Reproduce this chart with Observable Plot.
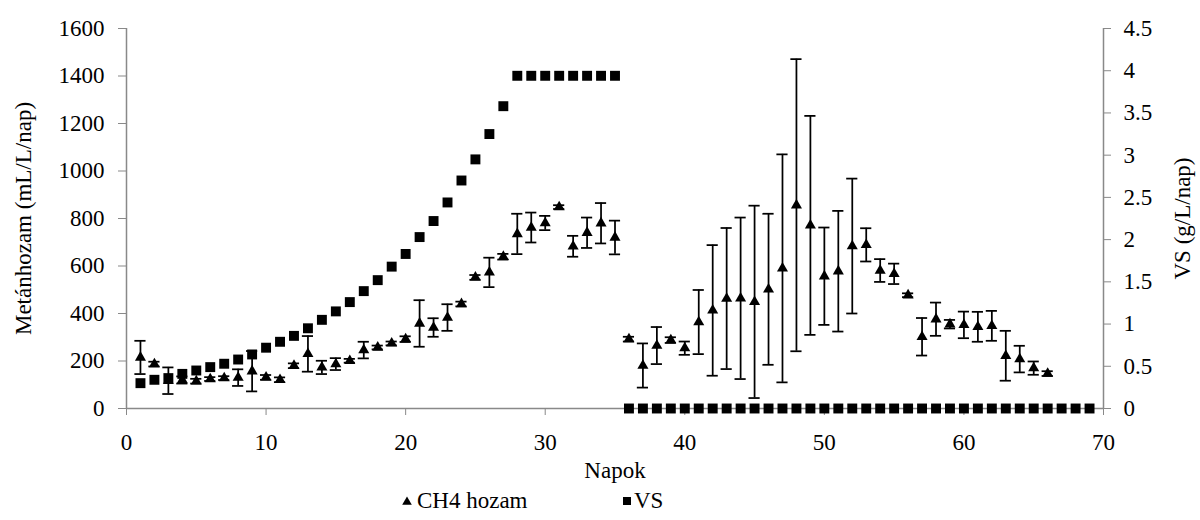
<!DOCTYPE html>
<html>
<head>
<meta charset="utf-8">
<script src="https://cdn.jsdelivr.net/npm/d3@7"></script>
<script src="https://cdn.jsdelivr.net/npm/@observablehq/plot@0.6"></script>
<style>
  body { margin: 0; background: #fff; font-family: "Times New Roman", "Liberation Serif", "DejaVu Serif", serif; }
  #chart svg { display: block; }
  #chart svg text, #legend text { font-family: "Times New Roman", "Liberation Serif", "DejaVu Serif", serif !important; }
  #legend { display: block; }
</style>
</head>
<body>
<div id="chart"></div>
<svg id="legend" width="1200" height="40"></svg>
<script>
// ---- Data ----
const ch4Days = [1,2,3,4,5,6,7,8,9,10,11,12,13,14,15,16,17,18,19,20,21,22,23,24,25,26,27,28,29,30,31,32,33,34,35,36,37,38,39,40,41,42,43,44,45,46,47,48,49,50,51,52,53,54,55,56,57,58,59,60,61,62,63,64,65,66];
const ch4Mean = [215,187,117,120,115,124,128,130,157,131,121,180,230,173,187,201,246,257,274,292,358,341,383,440,552,573,639,735,762,781,848,683,740,780,720,292,181,265,288,254,364,413,463,464,449,502,590,856,771,557,578,684,689,581,567,477,302,376,355,352,344,348,222,208,170,147];
const ch4Err  = [70,10,56,15,10,8,8,35,85,10,10,10,75,28,25,8,35,8,8,12,98,39,56,10,10,62,12,85,63,30,8,44,64,85,71,10,93,78,12,28,135,275,297,340,405,318,480,615,461,205,254,284,70,48,43,8,79,70,18,56,63,63,105,56,28,10];

const vsDays = [1,2,3,4,5,6,7,8,9,10,11,12,13,14,15,16,17,18,19,20,21,22,23,24,25,26,27,28,29,30,31,32,33,34,35,36,37,38,39,40,41,42,43,44,45,46,47,48,49,50,51,52,53,54,55,56,57,58,59,60,61,62,63,64,65,66,67,68,69];
const vsValues = [0.30,0.34,0.36,0.41,0.45,0.49,0.53,0.58,0.64,0.72,0.79,0.86,0.95,1.05,1.15,1.26,1.39,1.52,1.68,1.83,2.03,2.22,2.44,2.70,2.95,3.25,3.58,3.94,3.94,3.94,3.94,3.94,3.94,3.94,3.94,0,0,0,0,0,0,0,0,0,0,0,0,0,0,0,0,0,0,0,0,0,0,0,0,0,0,0,0,0,0,0,0,0,0];

const xTicks = [0,10,20,30,40,50,60,70];
const leftTicks = [0,200,400,600,800,1000,1200,1400,1600];
const rightTicks = [0,0.5,1,1.5,2,2.5,3,3.5,4,4.5];
const leftMax = 1600, rightMax = 4.5;

const xLabel = "Napok";
const leftLabel = "Metánhozam (mL/L/nap)";
const rightLabel = "VS (g/L/nap)";
const seriesNames = ["CH4 hozam", "VS"];

// ---- Build tables ----
const k = leftMax / rightMax;
const ch4 = ch4Days.map((d, i) => ({day: d, mean: ch4Mean[i], lo: ch4Mean[i] - ch4Err[i], hi: ch4Mean[i] + ch4Err[i]}));
const vs = vsDays.map((d, i) => ({day: d, v: vsValues[i] * k}));

const axisGray = "#898989";
const capHalf = 0.4;
const FONT = "Times New Roman, Liberation Serif, DejaVu Serif, serif";
const FS = 23;

const plot = Plot.plot({
  width: 1200,
  height: 480,
  marginLeft: 126,
  marginRight: 97,
  marginTop: 28,
  marginBottom: 72,
  style: {fontFamily: FONT, fontSize: FS + "px", color: "#000", background: "#fff", overflow: "visible"},
  x: {domain: [0, 70]},
  y: {domain: [0, leftMax]},
  marks: [
    Plot.ruleX([0, 70], {stroke: axisGray, strokeWidth: 1.5}),
    Plot.ruleY([0], {stroke: axisGray, strokeWidth: 1.5}),
    Plot.axisX(xTicks, {anchor: "bottom", tickSize: 7, tickPadding: 18, stroke: axisGray, fill: "#000",
      fontFamily: FONT, fontSize: FS, tickFormat: d3.format("d"),
      label: xLabel, labelAnchor: "center", labelArrow: "none", labelOffset: 69}),
    Plot.axisY(leftTicks, {anchor: "left", tickSize: 8, tickPadding: 14, stroke: axisGray, fill: "#000",
      fontFamily: FONT, fontSize: FS, tickFormat: d3.format("d"),
      label: leftLabel, labelAnchor: "center", labelArrow: "none", labelOffset: 112}),
    Plot.axisY(rightTicks.map(v => v * k), {anchor: "right", tickSize: 7, tickPadding: 13, stroke: axisGray, fill: "#000",
      fontFamily: FONT, fontSize: FS,
      tickFormat: v => d3.format("~g")(+(v / k).toFixed(2)),
      label: rightLabel, labelAnchor: "center", labelArrow: "none", labelOffset: 86}),
    // CH4 error bars
    Plot.ruleX(ch4, {x: "day", y1: "lo", y2: "hi", stroke: "#000", strokeWidth: 1.75}),
    Plot.ruleY(ch4, {y: "hi", x1: d => d.day - capHalf, x2: d => d.day + capHalf, stroke: "#000", strokeWidth: 1.75}),
    Plot.ruleY(ch4, {y: "lo", x1: d => d.day - capHalf, x2: d => d.day + capHalf, stroke: "#000", strokeWidth: 1.75}),
    Plot.dot(ch4, {x: "day", y: "mean", symbol: "triangle", r: 4.1, fill: "#000", stroke: "none"}),
    // VS squares
    Plot.dot(vs, {x: "day", y: "v", symbol: "square", r: 5.6, fill: "#000", stroke: "none"})
  ]
});
document.getElementById("chart").appendChild(plot);

// ---- Legend ----
const lg = d3.select("#legend");
lg.append("path").attr("d", d3.symbol(d3.symbolTriangle, 40)()).attr("transform", "translate(407,22)").attr("fill", "#000");
lg.append("text").attr("x", 417).attr("y", 28).attr("font-family", FONT).attr("font-size", FS).text(seriesNames[0]);
lg.append("rect").attr("x", 623).attr("y", 17).attr("width", 8).attr("height", 8).attr("fill", "#000");
lg.append("text").attr("x", 634).attr("y", 28).attr("font-family", FONT).attr("font-size", FS).text(seriesNames[1]);
</script>
</body>
</html>
